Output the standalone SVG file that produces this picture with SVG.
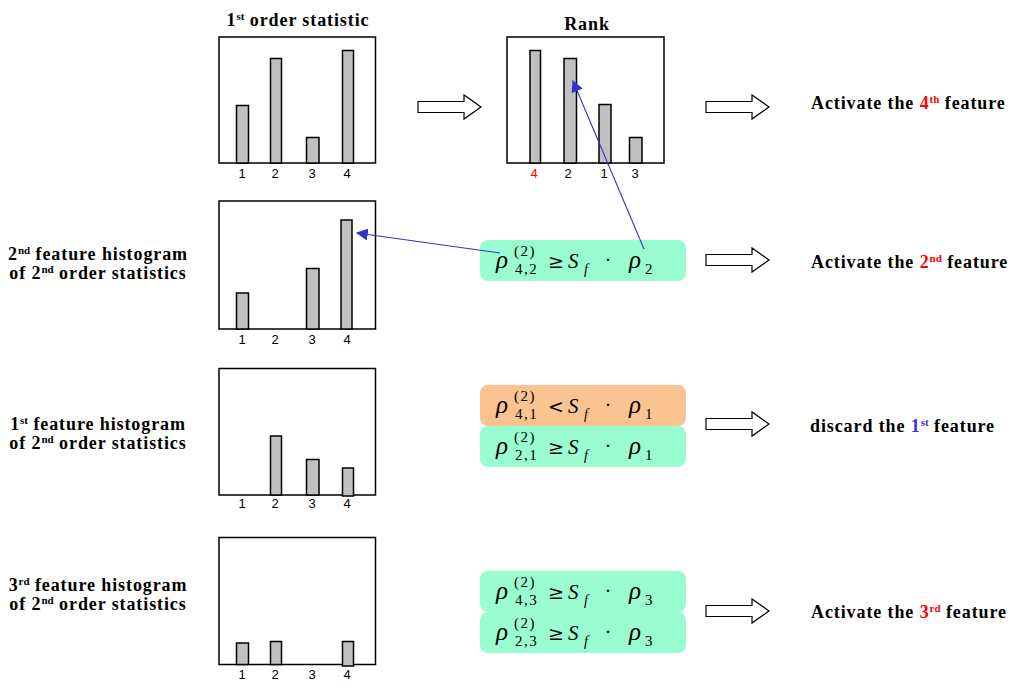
<svg xmlns="http://www.w3.org/2000/svg" width="1024" height="689" viewBox="0 0 1024 689">
<defs>
<style>
.frame{fill:#fff;stroke:#000;stroke-width:1.5}
.bar{fill:#c0c0c0;stroke:#000;stroke-width:1.5}
.num{font-family:"Liberation Sans",Arial,sans-serif;font-size:13px;fill:#000;text-anchor:middle}
.ttl{font-family:"Liberation Serif","Times New Roman",serif;font-weight:bold;font-size:18px;letter-spacing:0.9px;fill:#000}
.sup{font-size:11px;letter-spacing:0}
.harrow{fill:#fff;stroke:#000;stroke-width:1.2}
.blue{stroke:#3333cc;stroke-width:1.1;fill:none}
.m{font-family:"Liberation Serif","Times New Roman",serif;font-style:italic;fill:#000}
.mr{font-family:"DejaVu Serif","Liberation Serif",serif;fill:#000}
.ss{font-family:"Liberation Serif","Times New Roman",serif;font-size:15px;letter-spacing:1.5px;fill:#000}
.green{fill:#99fdcf}
.orange{fill:#fac491}
</style>
<marker id="bh" viewBox="0 0 10 10" refX="9" refY="5" markerWidth="12" markerHeight="12" markerUnits="userSpaceOnUse" orient="auto">
<path d="M0,0 L10,5 L0,10 Z" fill="#3333cc"/>
</marker>
</defs>
<rect width="1024" height="689" fill="#fff"/>

<g id="hist1">
<text class="ttl" x="298" y="26" text-anchor="middle">1<tspan class="sup" dy="-6">st</tspan><tspan dy="6"> order statistic</tspan></text>
<rect class="frame" x="219" y="37" width="156.5" height="126"/>
<rect class="bar" x="236.5" y="105.5" width="12" height="57.5"/>
<rect class="bar" x="270.5" y="58.5" width="11" height="104.5"/>
<rect class="bar" x="306.5" y="137.5" width="12.5" height="25.5"/>
<rect class="bar" x="342.5" y="50.5" width="11" height="112.5"/>
<text class="num" x="242" y="178">1</text><text class="num" x="275" y="178">2</text><text class="num" x="312" y="178">3</text><text class="num" x="347" y="178">4</text>
</g>

<g id="rank">
<text class="ttl" x="587" y="30" text-anchor="middle">Rank</text>
<rect class="frame" x="507" y="37" width="157" height="126"/>
<rect class="bar" x="530" y="50.5" width="10.5" height="112.5"/>
<rect class="bar" x="564" y="58.5" width="12.5" height="104.5"/>
<rect class="bar" x="599" y="104.5" width="12" height="58.5"/>
<rect class="bar" x="629.5" y="137.5" width="12.5" height="25.5"/>
<text class="num" x="534" y="178" style="fill:#ff0000">4</text><text class="num" x="568" y="178">2</text><text class="num" x="604" y="178">1</text><text class="num" x="635" y="178">3</text>
</g>

<g id="hist2">
<text class="ttl" x="98" y="260" text-anchor="middle">2<tspan class="sup" dy="-6">nd</tspan><tspan dy="6"> feature histogram</tspan></text>
<text class="ttl" x="98" y="279" text-anchor="middle">of 2<tspan class="sup" dy="-6">nd</tspan><tspan dy="6"> order statistics</tspan></text>
<rect class="frame" x="219" y="201" width="156.5" height="128"/>
<rect class="bar" x="236.5" y="293" width="12" height="36"/>
<rect class="bar" x="306.5" y="268.5" width="12.5" height="60.5"/>
<rect class="bar" x="341" y="220" width="11" height="109"/>
<text class="num" x="242" y="344">1</text><text class="num" x="275" y="344">2</text><text class="num" x="312" y="344">3</text><text class="num" x="347" y="344">4</text>
</g>

<g id="hist3">
<text class="ttl" x="98" y="430" text-anchor="middle">1<tspan class="sup" dy="-6">st</tspan><tspan dy="6"> feature histogram</tspan></text>
<text class="ttl" x="98" y="449" text-anchor="middle">of 2<tspan class="sup" dy="-6">nd</tspan><tspan dy="6"> order statistics</tspan></text>
<rect class="frame" x="219" y="368.5" width="156.5" height="126.5"/>
<rect class="bar" x="270.5" y="436" width="11" height="59"/>
<rect class="bar" x="306.5" y="459.5" width="12.5" height="35.5"/>
<rect class="bar" x="342.5" y="468" width="11" height="28"/>
<text class="num" x="242" y="508">1</text><text class="num" x="275" y="508">2</text><text class="num" x="312" y="508">3</text><text class="num" x="347" y="508">4</text>
</g>

<g id="hist4">
<text class="ttl" x="98" y="591" text-anchor="middle">3<tspan class="sup" dy="-6">rd</tspan><tspan dy="6"> feature histogram</tspan></text>
<text class="ttl" x="98" y="610" text-anchor="middle">of 2<tspan class="sup" dy="-6">nd</tspan><tspan dy="6"> order statistics</tspan></text>
<rect class="frame" x="219" y="537.5" width="156.5" height="127"/>
<rect class="bar" x="236.5" y="643" width="12" height="21.5"/>
<rect class="bar" x="270.5" y="641.5" width="11" height="23"/>
<rect class="bar" x="342.5" y="641.5" width="11" height="24.5"/>
<text class="num" x="242" y="679">1</text><text class="num" x="275" y="679">2</text><text class="num" x="312" y="679">3</text><text class="num" x="347" y="679">4</text>
</g>

<g id="cond1">
<rect class="green" x="480" y="240" width="206" height="41" rx="8"/>
<g>
<text class="m" x="496" y="268" font-size="25">ρ</text>
<text class="ss" x="514" y="256">(2)</text>
<text class="ss" x="515" y="274">4,2</text>
<text class="mr" x="548" y="268" font-size="19">≥</text>
<text class="m" x="568" y="268" font-size="21">S</text>
<text class="m" x="584" y="274" font-size="14">f</text>
<text class="mr" x="605" y="266" font-size="19">·</text>
<text class="m" x="629" y="268" font-size="25">ρ</text>
<text class="ss" x="645" y="274">2</text>
</g>
</g>

<g id="cond2">
<rect class="orange" x="480" y="385" width="206" height="41" rx="8"/>
<g transform="translate(0,145)">
<text class="m" x="496" y="268" font-size="25">ρ</text>
<text class="ss" x="514" y="256">(2)</text>
<text class="ss" x="515" y="274">4,1</text>
<text class="mr" x="548" y="268" font-size="19">&lt;</text>
<text class="m" x="568" y="268" font-size="21">S</text>
<text class="m" x="584" y="274" font-size="14">f</text>
<text class="mr" x="605" y="266" font-size="19">·</text>
<text class="m" x="629" y="268" font-size="25">ρ</text>
<text class="ss" x="645" y="274">1</text>
</g>
</g>

<g id="cond3">
<rect class="green" x="480" y="426" width="206" height="41" rx="8"/>
<g transform="translate(0,186)">
<text class="m" x="496" y="268" font-size="25">ρ</text>
<text class="ss" x="514" y="256">(2)</text>
<text class="ss" x="515" y="274">2,1</text>
<text class="mr" x="548" y="268" font-size="19">≥</text>
<text class="m" x="568" y="268" font-size="21">S</text>
<text class="m" x="584" y="274" font-size="14">f</text>
<text class="mr" x="605" y="266" font-size="19">·</text>
<text class="m" x="629" y="268" font-size="25">ρ</text>
<text class="ss" x="645" y="274">1</text>
</g>
</g>

<g id="cond4">
<rect class="green" x="480" y="571" width="206" height="41" rx="8"/>
<g transform="translate(0,331)">
<text class="m" x="496" y="268" font-size="25">ρ</text>
<text class="ss" x="514" y="256">(2)</text>
<text class="ss" x="515" y="274">4,3</text>
<text class="mr" x="548" y="268" font-size="19">≥</text>
<text class="m" x="568" y="268" font-size="21">S</text>
<text class="m" x="584" y="274" font-size="14">f</text>
<text class="mr" x="605" y="266" font-size="19">·</text>
<text class="m" x="629" y="268" font-size="25">ρ</text>
<text class="ss" x="645" y="274">3</text>
</g>
</g>

<g id="cond5">
<rect class="green" x="480" y="612" width="206" height="41" rx="8"/>
<g transform="translate(0,372)">
<text class="m" x="496" y="268" font-size="25">ρ</text>
<text class="ss" x="514" y="256">(2)</text>
<text class="ss" x="515" y="274">2,3</text>
<text class="mr" x="548" y="268" font-size="19">≥</text>
<text class="m" x="568" y="268" font-size="21">S</text>
<text class="m" x="584" y="274" font-size="14">f</text>
<text class="mr" x="605" y="266" font-size="19">·</text>
<text class="m" x="629" y="268" font-size="25">ρ</text>
<text class="ss" x="645" y="274">3</text>
</g>
</g>

<g id="result1"><text class="ttl" x="811" y="109">Activate the <tspan fill="#ff0000">4<tspan class="sup" dy="-6">th</tspan></tspan><tspan dy="6"> feature</tspan></text></g>
<g id="result2"><text class="ttl" x="811" y="268">Activate the <tspan fill="#ff0000">2<tspan class="sup" dy="-6">nd</tspan></tspan><tspan dy="6"> feature</tspan></text></g>
<g id="result3"><text class="ttl" x="810" y="432">discard the <tspan fill="#3333cc">1<tspan class="sup" dy="-6">st</tspan></tspan><tspan dy="6"> feature</tspan></text></g>
<g id="result4"><text class="ttl" x="811" y="618">Activate the <tspan fill="#ff0000">3<tspan class="sup" dy="-6">rd</tspan></tspan><tspan dy="6"> feature</tspan></text></g>

<g id="connectors">
<path class="harrow" d="M418,101.5 H464 V95 L481,107 L464,119 V112.5 H418 Z"/>
<path class="harrow" d="M706,101.5 H752 V95 L769,107 L752,119 V112.5 H706 Z"/>
<path class="harrow" d="M706,254.5 H752 V248 L769,260 L752,272 V265.5 H706 Z"/>
<path class="harrow" d="M706,418.5 H752 V412 L769,424 L752,436 V429.5 H706 Z"/>
<path class="harrow" d="M706,605.5 H752 V599 L769,611 L752,623 V616.5 H706 Z"/>
<line class="blue" x1="644" y1="249" x2="573" y2="81" marker-end="url(#bh)"/>
<line class="blue" x1="500" y1="253" x2="357" y2="233" marker-end="url(#bh)"/>
</g>
</svg>
